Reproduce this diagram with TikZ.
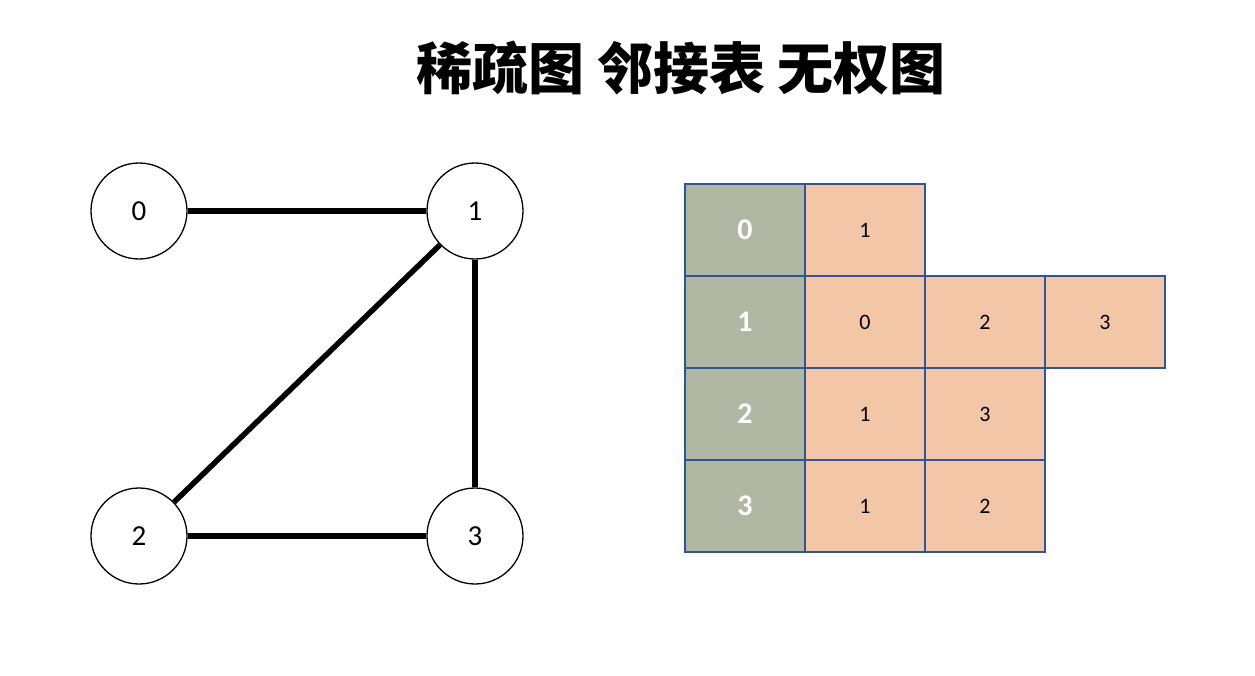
\documentclass[tikz,border=0pt]{standalone}
\usepackage{fontspec}
\setmainfont{Carlito}
\newfontfamily\cjk{Noto Sans CJK SC}
\usetikzlibrary{positioning}
\definecolor{headgray}{HTML}{B0B7A2}
\definecolor{cellpink}{HTML}{F4C6A8}
\definecolor{cellblue}{HTML}{2F5597}
\tikzset{
  vertex/.style={circle, draw, line width=1.3pt, minimum size=96pt, inner sep=0pt, font=\fontsize{29}{30}\selectfont},
  edge/.style={line width=5.5pt},
  headcell/.style={draw=cellblue, line width=1.3pt, fill=headgray, minimum width=120pt, minimum height=92pt, inner sep=0pt, text=white, font=\bfseries\fontsize{30}{32}\selectfont},
  listcell/.style={draw=cellblue, line width=1.3pt, fill=cellpink, minimum width=120pt, minimum height=92pt, inner sep=0pt, font=\fontsize{22}{24}\selectfont}
}
\begin{document}
\begin{tikzpicture}[x=1pt, y=-1pt]
  \useasboundingbox (0,0) rectangle (1255,675);
  \node[font=\cjk\bfseries\fontsize{56}{60}\selectfont] (title) at (681,68) {稀疏图 邻接表 无权图};
  % 图
  \node[vertex] (v0) at (139,211) {0};
  \node[vertex] (v1) at (475,211) {1};
  \node[vertex] (v2) at (139,536) {2};
  \node[vertex] (v3) at (475,536) {3};
  \draw[edge] (v0) -- (v1);
  \draw[edge] (v1) -- (v2);
  \draw[edge] (v1) -- (v3);
  \draw[edge] (v2) -- (v3);
  % 邻接表
  \foreach \r/\list in {0/{1}, 1/{0,2,3}, 2/{1,3}, 3/{1,2}} {
    \node[headcell] (h\r) at (745,230+92*\r) {\r};
    \foreach \v [count=\c] in \list {
      \node[listcell] (c\r\c) at (745+120*\c,230+92*\r) {\v};
    }
  }
\end{tikzpicture}
\end{document}
